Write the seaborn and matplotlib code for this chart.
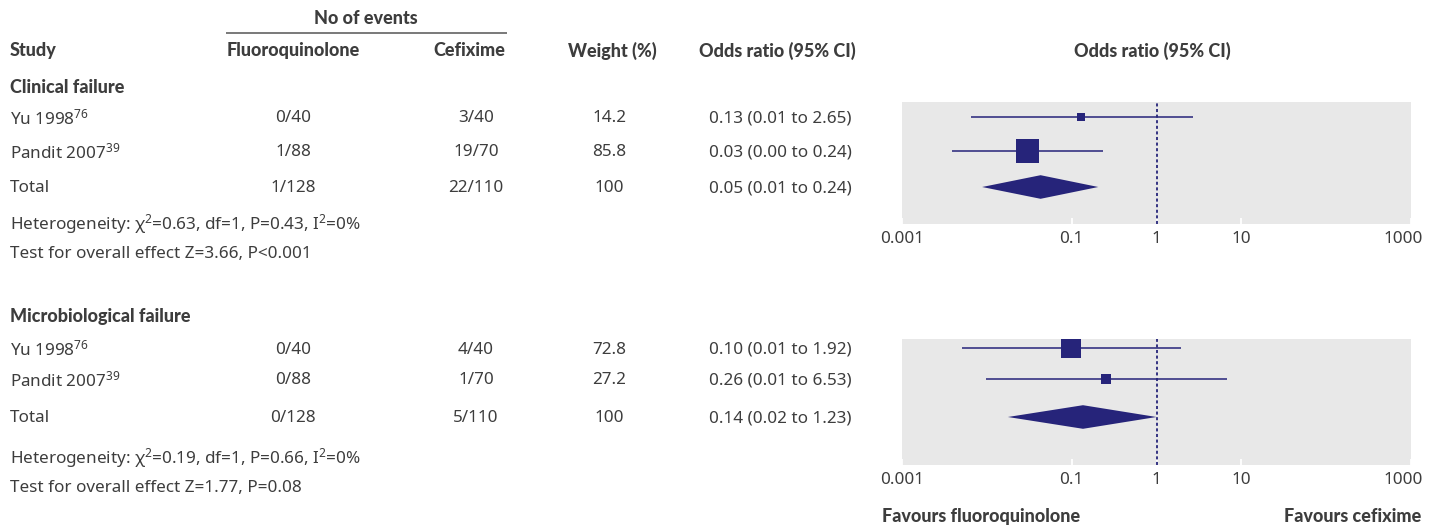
import matplotlib
matplotlib.use("Agg")
import matplotlib.pyplot as plt
import matplotlib.transforms as mtransforms
import seaborn as sns
import pandas as pd

# ---------------- data ----------------
study_names = ["Yu 1998", "Pandit 2007"]
study_refs = ["76", "39"]

clin_fq = ["0/40", "1/88", "1/128"]
clin_cef = ["3/40", "19/70", "22/110"]
clin_weight = [14.2, 85.8]
clin_weight_txt = ["14.2", "85.8", "100"]
clin_or_txt = ["0.13 (0.01 to 2.65)", "0.03 (0.00 to 0.24)", "0.05 (0.01 to 0.24)"]
clin_or = [0.129, 0.030]
clin_lo = [0.0065, 0.0039]
clin_hi = [2.66, 0.236]
clin_total = [0.043, 0.0088, 0.206]  # point, lower, upper (as drawn)
clin_het = "Heterogeneity: χ$^2$=0.63, df=1, P=0.43, I$^2$=0%"
clin_test = "Test for overall effect Z=3.66, P<0.001"

micro_fq = ["0/40", "0/88", "0/128"]
micro_cef = ["4/40", "1/70", "5/110"]
micro_weight = [72.8, 27.2]
micro_weight_txt = ["72.8", "27.2", "100"]
micro_or_txt = ["0.10 (0.01 to 1.92)", "0.26 (0.01 to 6.53)", "0.14 (0.02 to 1.23)"]
micro_or = [0.0985, 0.256]
micro_lo = [0.0051, 0.0099]
micro_hi = [1.94, 6.7]
micro_total = [0.136, 0.0177, 1.0]
micro_het = "Heterogeneity: χ$^2$=0.19, df=1, P=0.66, I$^2$=0%"
micro_test = "Test for overall effect Z=1.77, P=0.08"

tick_vals = [0.001, 0.1, 1, 10, 1000]
tick_labels = ["0.001", "0.1", "1", "10", "1000"]

# ---------------- style ----------------
W, H = 1437, 525
NAVY = "#26247a"
GREY_BG = "#e8e8e8"
TXT = "#3d3d3d"

sns.set_style("white")
plt.rcParams["font.family"] = ["Noto Sans", "DejaVu Sans"]
plt.rcParams["mathtext.fontset"] = "custom"
plt.rcParams["mathtext.rm"] = "Noto Sans"
plt.rcParams["mathtext.it"] = "Noto Sans:italic"
plt.rcParams["mathtext.bf"] = "Noto Sans:bold"

FS = 12.3
FSB = 13.0
BOLD_FAMILY = ["Lato", "Open Sans", "Roboto", "DejaVu Sans"]
TEXT_DY = 1.5

fig = plt.figure(figsize=(W / 100, H / 100), dpi=100)
fig.patch.set_facecolor("white")

# overlay axes in pixel coordinates for table text
tax = fig.add_axes([0, 0, 1, 1])
tax.set_xlim(0, W)
tax.set_ylim(H, 0)
tax.axis("off")


def t(x, y, s, ha="left", bold=False, size=None):
    kw = {}
    if bold:
        kw["family"] = BOLD_FAMILY
        kw["fontweight"] = "black"
    tax.text(x, y + TEXT_DY, s, ha=ha, va="center", color=TXT,
             fontsize=size or (FSB if bold else FS), **kw)


# header
t(366, 17, "No of events", ha="center", bold=True)
tax.plot([226, 507], [33, 33], color="#555555", lw=1.1, solid_capstyle="butt")
t(10, 49, "Study", bold=True)
t(293, 49, "Fluoroquinolone", ha="center", bold=True)
t(469, 49, "Cefixime", ha="center", bold=True)
t(612, 49, "Weight (%)", ha="center", bold=True)
t(777, 49, "Odds ratio (95% CI)", ha="center", bold=True)
t(1152, 49, "Odds ratio (95% CI)", ha="center", bold=True)

COL_FQ, COL_CEF, COL_W, COL_OR = 293, 476, 609, 780


def section(title, y_title, rows_y, fq, cef, wtxt, ortxt, het, test, y_het, y_test):
    t(10, y_title, title, bold=True)
    labels = [f"{n}$^{{{r}}}$" for n, r in zip(study_names, study_refs)] + ["Total"]
    for i, y in enumerate(rows_y):
        t(10, y, labels[i])
        t(COL_FQ, y, fq[i], ha="center")
        t(COL_CEF, y, cef[i], ha="center")
        t(COL_W, y, wtxt[i], ha="center")
        t(COL_OR, y, ortxt[i], ha="center")
    t(10, y_het, het)
    t(10, y_test, test)


rows_top = [117, 151, 187]
rows_bot = [348, 379, 417]

section("Clinical failure", 86, rows_top, clin_fq, clin_cef, clin_weight_txt,
        clin_or_txt, clin_het, clin_test, 223, 252)
section("Microbiological failure", 315, rows_bot, micro_fq, micro_cef, micro_weight_txt,
        micro_or_txt, micro_het, micro_test, 457, 487)

t(882, 515, "Favours fluoroquinolone", bold=True)
t(1421, 515, "Favours cefixime", ha="right", bold=True)


def forest(top_px, bot_px, rows_y, ors, los, his, weights, total):
    ax = fig.add_axes([902 / W, 1 - bot_px / H, 509 / W, (bot_px - top_px) / H])
    ax.set_facecolor(GREY_BG)
    ax.set_xscale("log")
    ax.set_xlim(0.001, 1000)
    ax.set_ylim(bot_px, top_px)
    for sp in ax.spines.values():
        sp.set_visible(False)
    ax.grid(False)

    # reference line at OR = 1
    ax.axvline(1, color=NAVY, lw=1.3, linestyle=(0, (1.7, 1.4)), zorder=1)

    # confidence intervals
    ax.hlines(rows_y[:2], los, his, color=NAVY, lw=1.1, zorder=2)

    # study boxes, side length linear in weight
    side_px = [4.0 + 0.225 * w for w in weights]
    sizes = [(s * 0.72) ** 2 for s in side_px]
    df = pd.DataFrame({"or": ors, "y": rows_y[:2]})
    sns.scatterplot(data=df, x="or", y="y", marker="s", s=sizes, color=NAVY,
                    edgecolor="none", linewidth=0, ax=ax, zorder=3, legend=False)

    # pooled diamond
    pt, lo, hi = total
    yc = rows_y[2]
    hh = 11.8
    ax.fill([lo, pt, hi, pt], [yc, yc - hh, yc, yc + hh], color=NAVY, lw=0, zorder=3)

    ax.set_xticks(tick_vals)
    ax.set_xticklabels(tick_labels)
    ax.minorticks_off()
    ax.tick_params(axis="x", direction="in", length=4, width=1.3, color="white",
                   labelsize=FS, labelcolor=TXT, pad=5, bottom=True)
    ax.tick_params(axis="y", left=False, labelleft=False)
    ax.set_xlabel("")
    ax.set_ylabel("")
    # nudge the last label inward as in the reference
    lab = ax.get_xticklabels()[-1]
    lab.set_transform(lab.get_transform() +
                      mtransforms.ScaledTranslation(-8 / 100, 0, fig.dpi_scale_trans))
    return ax


forest(101.7, 224, rows_top, clin_or, clin_lo, clin_hi, clin_weight, clin_total)
forest(339, 465, rows_bot, micro_or, micro_lo, micro_hi, micro_weight, micro_total)

fig.savefig("out.png", dpi=100, facecolor="white")
